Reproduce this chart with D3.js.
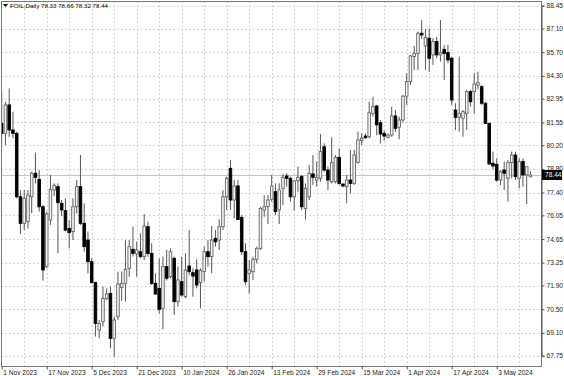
<!DOCTYPE html>
<html><head><meta charset="utf-8">
<script src="https://cdn.jsdelivr.net/npm/d3@7"></script>
<style>
html,body{margin:0;padding:0;background:#fff;}
svg{display:block;font-family:"Liberation Sans",Arial,sans-serif;}
</style></head><body>
<svg id="c" width="564" height="376"></svg>
<script>
const symbol = "FOIL,Daily";
const openP = [81.49,80.90,82.58,81.10,80.90,77.15,75.58,75.68,77.15,78.54,78.18,76.56,73.02,75.77,77.55,77.75,76.76,76.33,75.28,75.09,
76.56,77.75,75.58,74.59,73.31,72.07,69.27,69.76,71.14,71.44,68.78,70.06,71.79,72.03,72.92,74.04,73.77,73.90,73.61,75.38,
73.80,72.03,71.73,70.55,73.02,72.42,73.51,70.95,72.13,71.24,73.05,72.66,72.82,72.07,72.72,73.90,73.61,74.69,74.59,75.38,
77.15,78.83,76.96,77.79,75.93,73.90,72.62,72.72,73.45,74.10,76.37,76.56,77.00,77.45,76.37,77.65,78.38,78.24,77.15,78.10,
78.34,76.46,77.15,78.50,78.14,78.24,80.11,78.73,78.04,78.04,79.48,77.90,77.75,78.14,77.94,79.17,80.47,80.74,80.70,82.08,
82.52,81.53,80.90,80.67,80.80,81.93,81.26,81.69,83.10,83.96,85.44,85.63,86.82,86.07,86.52,85.54,86.33,85.54,85.87,85.67,
85.34,82.28,81.85,81.79,82.08,83.37,83.37,83.76,83.66,82.68,81.49,79.13,79.07,78.14,78.73,78.24,79.17,79.62,78.24,79.23,
78.44,78.33];
const highP = [83.40,82.77,83.56,82.18,81.00,77.55,77.55,77.55,78.63,79.76,78.73,76.66,76.27,78.44,77.94,77.94,76.96,77.06,75.77,77.06,
78.14,79.62,76.76,75.09,73.51,72.13,69.86,71.83,71.73,71.83,70.06,72.72,72.72,74.59,74.59,75.38,74.49,74.99,76.13,75.68,
74.40,72.62,73.51,73.61,74.00,74.10,73.61,73.02,73.61,73.80,75.18,72.92,73.45,72.92,74.20,74.59,75.42,75.18,75.81,77.55,
78.34,79.32,78.14,78.14,76.07,74.40,73.41,73.61,74.20,76.56,77.25,77.25,78.44,77.94,77.94,78.50,78.54,78.34,78.14,78.93,
78.44,77.94,79.03,79.62,79.23,80.86,80.31,78.93,80.66,79.62,80.01,77.94,78.44,79.92,79.92,81.00,80.90,80.90,82.77,83.07,
82.58,81.69,81.06,80.90,82.48,82.28,81.89,83.17,84.45,85.54,86.07,86.92,87.60,87.07,87.11,86.52,86.60,87.60,86.13,86.13,
85.44,82.68,85.44,82.28,83.47,83.47,84.45,84.55,83.76,82.77,81.53,79.82,79.42,78.73,79.23,79.32,79.82,79.82,79.42,79.42,
78.93,78.66];
const lowP = [80.31,80.21,80.70,80.61,77.06,74.95,75.18,75.28,76.17,77.94,76.27,72.19,72.92,75.48,77.20,73.80,76.00,75.09,74.10,74.59,
76.17,75.48,73.90,72.62,72.03,68.88,68.78,69.47,71.04,68.19,67.69,69.86,71.00,70.95,72.42,73.61,72.42,73.51,73.41,73.60,
71.93,71.34,70.25,69.31,72.20,72.33,70.16,70.65,71.24,71.14,72.50,71.24,71.73,70.55,72.13,73.02,72.62,74.20,74.00,75.18,
76.37,76.37,75.87,75.77,73.71,71.93,71.44,72.23,73.21,74.00,75.97,75.54,76.86,76.07,75.54,76.66,77.75,76.86,76.33,77.45,
76.37,75.81,76.96,77.85,77.75,78.04,78.63,77.55,77.94,77.94,77.85,77.70,76.76,77.35,77.85,79.12,80.20,80.60,80.60,81.90,
80.80,80.31,80.47,80.60,80.70,81.00,80.55,81.53,82.58,83.76,84.65,84.65,86.50,84.65,84.53,84.95,85.34,85.14,84.06,85.04,
82.58,81.10,81.00,80.70,81.10,82.48,82.08,83.50,82.58,81.45,79.03,78.77,78.04,77.85,77.55,76.86,78.24,78.14,77.65,77.75,
76.72,78.32];
const closeP = [80.90,82.58,81.10,80.90,77.15,75.58,77.06,77.25,78.54,78.30,76.56,72.82,76.13,77.59,77.83,76.80,76.37,75.18,75.03,76.56,
77.75,75.58,74.20,73.31,72.07,69.66,69.66,71.14,71.40,68.78,69.86,71.99,72.03,72.86,74.20,73.80,74.00,73.61,75.42,73.80,
72.03,71.40,70.49,73.02,72.33,73.90,70.95,72.23,71.34,72.82,72.72,72.46,71.93,72.78,73.90,73.61,74.59,74.49,75.38,77.15,
78.24,76.96,77.79,75.81,73.90,72.13,72.82,73.45,74.10,76.46,76.56,76.96,77.79,76.27,77.55,78.30,78.24,77.15,78.08,78.30,
76.56,77.65,78.54,78.30,78.30,79.82,78.73,78.14,79.17,79.48,77.94,77.79,78.14,77.94,79.62,80.51,80.61,80.64,82.12,82.48,
81.40,80.86,80.74,80.80,81.93,81.20,81.69,83.10,83.96,85.48,85.63,86.82,86.72,86.58,85.34,86.33,85.54,85.67,85.63,85.24,
82.87,81.85,82.08,82.18,83.37,82.77,83.82,83.90,82.68,81.49,79.09,78.97,78.14,78.63,78.54,79.17,79.62,78.34,79.23,78.44,
78.93,78.44];
const priceTicks = [88.45,87.10,85.70,84.30,82.95,81.55,80.20,78.80,77.40,76.05,74.65,73.25,71.90,70.50,69.10,67.75];
const dateTickIndex = [0,12,24,36,48,60,72,84,96,108,120,132];
const dateTickLabels = ["1 Nov 2023","17 Nov 2023","5 Dec 2023","21 Dec 2023","10 Jan 2024","26 Jan 2024","13 Feb 2024","29 Feb 2024","15 Mar 2024","1 Apr 2024","17 Apr 2024","3 May 2024"];

const W = 564, H = 376;
const L = 1, R = 541, T = 1, B = 366;
const n = closeP.length;
const bars = d3.range(n).map(i => ({i, o: openP[i], h: highP[i], l: lowP[i], c: closeP[i]}));

const x = d3.scaleLinear().domain([0, n - 1]).range([1.7, 1.7 + 3.75 * (n - 1)]);
const y = d3.scaleLinear().domain([67.75, 88.45]).range([355.7, 5.7]);

const svg = d3.select("#c");
svg.append("rect").attr("width", W).attr("height", H).attr("fill", "#fff");

svg.append("defs").append("clipPath").attr("id", "pc")
  .append("rect").attr("x", L).attr("y", T).attr("width", R - L).attr("height", B - T);

// grid
const grid = svg.append("g").attr("stroke", "#d4d4d4").attr("stroke-width", 1).attr("stroke-dasharray", "2,2");
grid.selectAll("line.h").data(priceTicks).join("line").attr("class", "h")
  .attr("x1", L).attr("x2", R)
  .attr("y1", d => Math.round(y(d)) + 0.5).attr("y2", d => Math.round(y(d)) + 0.5);
grid.selectAll("line.v").data(d3.range(6, n, 6)).join("line").attr("class", "v")
  .attr("y1", T).attr("y2", B)
  .attr("x1", d => Math.round(x(d)) + 0.5).attr("x2", d => Math.round(x(d)) + 0.5);

// current price line
const last = bars[n - 1];
svg.append("line").attr("x1", L).attr("x2", R)
  .attr("y1", Math.round(y(last.c)) + 0.5).attr("y2", Math.round(y(last.c)) + 0.5)
  .attr("stroke", "#c4c4c4").attr("stroke-width", 1);

// candles
const cg = svg.append("g").attr("clip-path", "url(#pc)");
const bw = 2.6;
const cand = cg.selectAll("g.c").data(bars).join("g").attr("class", "c");
cand.append("line")
  .attr("x1", d => x(d.i)).attr("x2", d => x(d.i))
  .attr("y1", d => y(d.h)).attr("y2", d => y(d.l))
  .attr("stroke", "#555").attr("stroke-width", 1);
cand.append("rect")
  .attr("x", d => x(d.i) - bw / 2)
  .attr("width", bw)
  .attr("y", d => y(Math.max(d.o, d.c)))
  .attr("height", d => Math.max(0.8, Math.abs(y(d.o) - y(d.c))))
  .attr("fill", d => d.c >= d.o ? "#f2f2f2" : "#000")
  .attr("stroke", d => d.c >= d.o ? "#666" : "#000")
  .attr("stroke-width", 0.9);

// frame
svg.append("rect").attr("x", L + 0.5).attr("y", T + 0.5).attr("width", R - L).attr("height", B - T)
  .attr("fill", "none").attr("stroke", "#777").attr("stroke-width", 1);

// right axis
const ya = svg.append("g").attr("transform", `translate(${R + 0.5},0)`)
  .call(d3.axisRight(y).tickValues(priceTicks).tickFormat(d3.format(".2f")).tickSize(3).tickPadding(2));
ya.select(".domain").attr("stroke", "#555");
ya.selectAll(".tick line").attr("stroke", "#555");
ya.selectAll("text").attr("font-size", "6.6px").attr("fill", "#222").attr("font-family", '"Liberation Sans",Arial,sans-serif');

// bottom axis
const xa = svg.append("g").attr("transform", `translate(0,${B + 0.5})`)
  .call(d3.axisBottom(x).tickValues(dateTickIndex).tickFormat((d, k) => dateTickLabels[k]).tickSize(3).tickPadding(1));
xa.select(".domain").remove();
xa.selectAll(".tick line").attr("stroke", "#555");
xa.selectAll("text").attr("text-anchor", "start").attr("dx", "1px")
  .attr("font-size", "6.6px").attr("fill", "#222").attr("font-family", '"Liberation Sans",Arial,sans-serif');

// price box
const py = y(last.c);
svg.append("rect").attr("x", R + 1).attr("y", py - 5).attr("width", 20).attr("height", 10).attr("fill", "#000");
svg.append("text").attr("x", R + 4).attr("y", py).attr("dy", "0.33em")
  .attr("font-size", "6.6px").attr("fill", "#fff").text(d3.format(".2f")(last.c));

// header
svg.append("path").attr("d", "M3,4 L8,4 L5.5,7 Z").attr("fill", "#000");
svg.append("text").attr("x", 10).attr("y", 5.5).attr("dy", "0.33em")
  .attr("font-size", "6.2px").attr("fill", "#000")
  .text(`${symbol} ${d3.format(".2f")(last.o)} ${d3.format(".2f")(last.h)} ${d3.format(".2f")(last.l)} ${d3.format(".2f")(last.c)}`);
</script>
</body></html>
